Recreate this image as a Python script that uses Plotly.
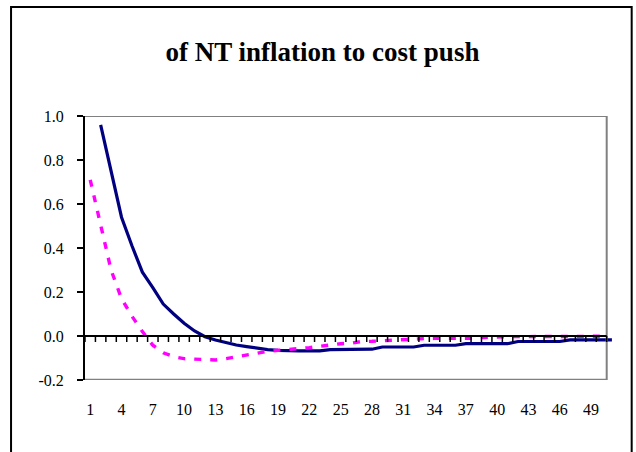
import plotly.graph_objects as go

# ---- data ----
title_text = "of NT inflation to cost push"
periods_solid = list(range(2, 52))
solid_vals = [0.96, 0.75, 0.54, 0.41, 0.29, 0.22, 0.145, 0.10, 0.058, 0.023,
              -0.003, -0.018, -0.03, -0.041, -0.048, -0.056, -0.062, -0.065, -0.068, -0.068,
              -0.068, -0.068, -0.062, -0.061, -0.060, -0.060, -0.060, -0.050, -0.050, -0.050,
              -0.050, -0.042, -0.042, -0.042, -0.042, -0.035, -0.035, -0.035, -0.035, -0.035,
              -0.025, -0.025, -0.025, -0.025, -0.025, -0.018, -0.018, -0.018, -0.018, -0.018]
periods_dash = list(range(1, 51))
dash_vals = [0.71, 0.50, 0.30, 0.17, 0.09, 0.02, -0.042, -0.076, -0.094, -0.103,
             -0.106, -0.109, -0.109, -0.103, -0.094, -0.085, -0.076, -0.070, -0.065, -0.062,
             -0.059, -0.053, -0.047, -0.041, -0.035, -0.033, -0.025, -0.024, -0.021, -0.020,
             -0.018, -0.014, -0.012, -0.011, -0.011, -0.011, -0.011, -0.010, -0.006, -0.003,
             -0.003, -0.003, -0.002, -0.002, -0.002, -0.002, -0.002, -0.001, -0.001, -0.001]
x_tick_vals = list(range(1, 50, 3))
y_tick_vals = [-0.2, 0.0, 0.2, 0.4, 0.6, 0.8, 1.0]
y_tick_text = ["-0.2", "0.0", "0.2", "0.4", "0.6", "0.8", "1.0"]
n_cat = 50

# ---- geometry (pixels) ----
W, H = 636, 452
plot_l, plot_t, plot_b = 85, 116, 380
px_per_cat = 10.44
x_min, x_max = 0.5, 51.2
plot_r = plot_l + (x_max - x_min) * px_per_cat
plot_w = plot_r - plot_l
plot_h = plot_b - plot_t

def px2paper_x(px):
    return (px - plot_l) / plot_w

def px2paper_y(py):
    return (plot_b - py) / plot_h

FONT = "Liberation Serif, Times New Roman, serif"

fig = go.Figure()
fig.add_trace(go.Scatter(x=periods_solid, y=solid_vals, mode="lines",
                         line=dict(color="#000080", width=3.2), hoverinfo="skip"))
fig.add_trace(go.Scatter(x=periods_dash, y=dash_vals, mode="lines",
                         line=dict(color="#FF00FF", width=3.4, dash="7px,9px"), hoverinfo="skip"))

shapes = []
frame_right = n_cat + 0.5
grey = "#808080"
# grey frame: top, right, bottom
shapes.append(dict(type="line", xref="x", yref="y", x0=x_min, x1=frame_right, y0=1.0, y1=1.0,
                   line=dict(color=grey, width=2)))
shapes.append(dict(type="line", xref="x", yref="y", x0=frame_right, x1=frame_right, y0=-0.2, y1=1.0,
                   line=dict(color=grey, width=2)))
shapes.append(dict(type="line", xref="x", yref="y", x0=x_min, x1=frame_right, y0=-0.2, y1=-0.2,
                   line=dict(color=grey, width=2.5)))
# zero line with category-boundary ticks
shapes.append(dict(type="line", xref="x", yref="y", x0=x_min, x1=frame_right, y0=0, y1=0,
                   line=dict(color="black", width=2)))
for k in range(n_cat + 1):
    b = x_min + k
    shapes.append(dict(type="line", xref="x", yref="y", ysizemode="pixel", yanchor=0,
                       x0=b, x1=b, y0=0, y1=-6, line=dict(color="black", width=1.5)))
# outer chart border
shapes.append(dict(type="rect", xref="paper", yref="paper",
                   x0=px2paper_x(11), x1=px2paper_x(632),
                   y0=px2paper_y(470), y1=px2paper_y(7),
                   line=dict(color="black", width=2), fillcolor="rgba(0,0,0,0)", layer="below"))

fig.update_layout(
    width=W, height=H,
    margin=dict(l=plot_l, r=W - plot_r, t=plot_t, b=H - plot_b, pad=0),
    paper_bgcolor="white", plot_bgcolor="white",
    showlegend=False,
    shapes=shapes,
    title=dict(text=f"<b>{title_text}</b>", x=322.5 / W, xanchor="center",
               y=1 - 52 / H, yanchor="middle", yref="container",
               font=dict(family=FONT, size=27, color="black")),
    xaxis=dict(range=[x_min, x_max], tickvals=x_tick_vals, showgrid=False, zeroline=False,
               showline=False, ticks="", ticklabelstandoff=18,
               tickfont=dict(family=FONT, size=16, color="black"), fixedrange=True),
    yaxis=dict(range=[-0.2, 1.0], tickvals=y_tick_vals, ticktext=y_tick_text, showgrid=False,
               zeroline=False, showline=True, linecolor="black", linewidth=2,
               ticks="outside", ticklen=6, tickwidth=2, tickcolor="black",
               ticklabelstandoff=10,
               tickfont=dict(family=FONT, size=16, color="black"), fixedrange=True),
)

fig.write_html("out.html")
